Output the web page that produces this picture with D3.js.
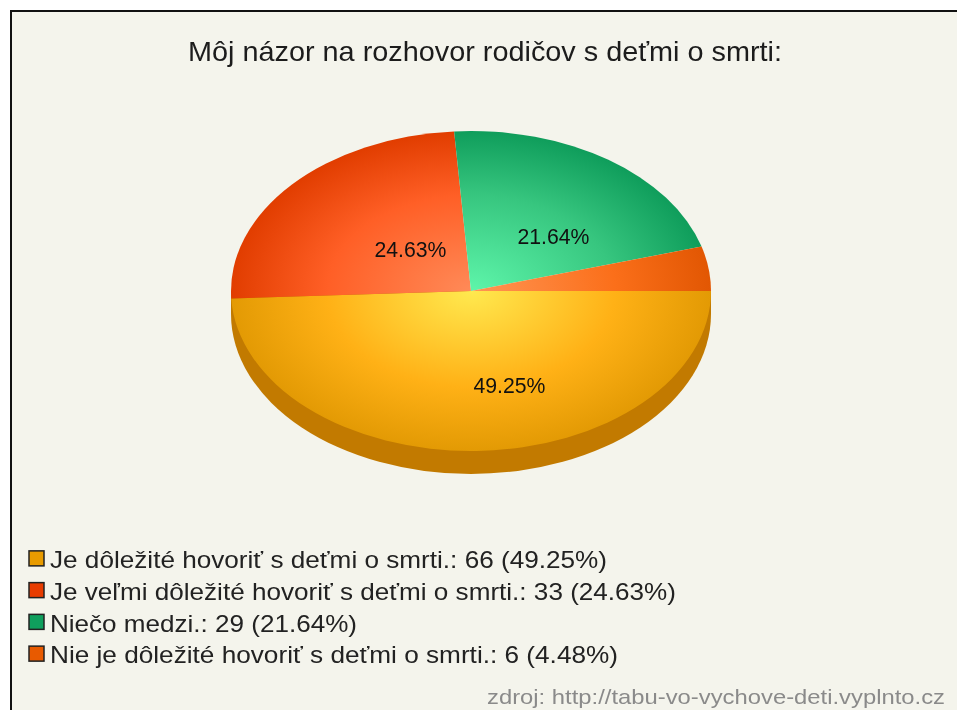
<!DOCTYPE html>
<html>
<head>
<meta charset="utf-8">
<script src="https://cdn.jsdelivr.net/npm/d3@7"></script>
<style>
  html, body { margin: 0; padding: 0; background: #fff; }
  svg { display: block; }
  text { font-family: "Liberation Sans", Arial, sans-serif; filter: blur(0.4px); }
</style>
</head>
<body>
<svg id="chart" width="957" height="710"></svg>
<script>
const title = 'Môj názor na rozhovor rodičov s deťmi o smrti:';
const categories = [
  'Je dôležité hovoriť s deťmi o smrti.',
  'Je veľmi dôležité hovoriť s deťmi o smrti.',
  'Niečo medzi.',
  'Nie je dôležité hovoriť s deťmi o smrti.',
];
const counts = [66, 33, 29, 6];
const percents = ['49.25%', '24.63%', '21.64%', '4.48%'];
const source = 'zdroj: http://tabu-vo-vychove-deti.vyplnto.cz';

// [centre, middle, edge] of each slice, then the legend swatch
const sliceColors = [
  ['#ffe94f', '#ffb116', '#e39a04'],
  ['#ff8a58', '#ff5f26', '#e13d00'],
  ['#5ef5aa', '#37c67f', '#0f9d5b'],
  ['#ff9555', '#fb6f1a', '#e25703'],
];
const swatchColors = ['#e89b00', '#e83c00', '#0f9f5d', '#e85a00'];
const sideColor = '#c27a00';

// hand nudges from the slice centroid, the small slice has no label
const labelNudge = [[35, -1], [47, 22], [0, 24], null];
const legendWidths = [557, 626, 307, 568];

const svg = d3.select('#chart');
const defs = svg.append('defs');

const cx = 471, cy = 291, rx = 240, ry = 160, depth = 23;
const squash = ry / rx;

svg.append('rect')
  .attr('x', 11).attr('y', 11)
  .attr('width', 946).attr('height', 699)
  .attr('fill', '#f4f4ec');
svg.append('path')
  .attr('d', 'M11,710V11H957')
  .attr('fill', 'none')
  .attr('stroke', '#111')
  .attr('stroke-width', 2);

svg.append('text')
  .attr('x', 188).attr('y', 61)
  .attr('font-size', 28.5)
  .attr('fill', '#1c1c1c')
  .attr('textLength', 594)
  .attr('lengthAdjust', 'spacingAndGlyphs')
  .text(title);

// pie: first slice starts pointing east and runs clockwise
const pie = d3.pie().sort(null).startAngle(Math.PI / 2).endAngle(Math.PI * 2.5);
const arcs = pie(counts);
const arc = d3.arc().innerRadius(0).outerRadius(rx);

const pieG = svg.append('g')
  .attr('transform', `translate(${cx},${cy}) scale(1,${squash})`);

// side wall of the lower half
const sideArc = d3.arc().innerRadius(0).outerRadius(rx)
  .startAngle(Math.PI / 2).endAngle(Math.PI * 1.5);
pieG.append('path')
  .attr('d', sideArc())
  .attr('transform', `translate(0,${depth / squash})`)
  .attr('fill', sideColor);
pieG.append('rect')
  .attr('x', -rx).attr('y', 0)
  .attr('width', rx * 2).attr('height', depth / squash)
  .attr('fill', sideColor);

sliceColors.forEach((c, i) => {
  const g = defs.append('radialGradient')
    .attr('id', `slice${i}`)
    .attr('gradientUnits', 'userSpaceOnUse')
    .attr('cx', 0).attr('cy', 0).attr('r', rx);
  g.append('stop').attr('offset', 0).attr('stop-color', c[0]);
  g.append('stop').attr('offset', 0.6).attr('stop-color', c[1]);
  g.append('stop').attr('offset', 1).attr('stop-color', c[2]);
});

pieG.selectAll('path.slice')
  .data(arcs)
  .join('path')
  .attr('class', 'slice')
  .attr('d', arc)
  .attr('fill', (d, i) => `url(#slice${i})`);

const labelArc = d3.arc().innerRadius(rx * 0.6).outerRadius(rx * 0.6);
svg.append('g')
  .selectAll('text')
  .data(arcs.filter((d, i) => labelNudge[i]))
  .join('text')
  .attr('x', d => cx + labelArc.centroid(d)[0] + labelNudge[d.index][0])
  .attr('y', d => cy + labelArc.centroid(d)[1] * squash + labelNudge[d.index][1])
  .attr('dy', '0.35em')
  .attr('text-anchor', 'middle')
  .attr('font-size', 21.5)
  .attr('fill', '#111')
  .attr('textLength', 72)
  .attr('lengthAdjust', 'spacingAndGlyphs')
  .text(d => percents[d.index]);

// legend
const legendY = d3.scaleBand()
  .domain(d3.range(categories.length))
  .range([543, 670]);
const legend = svg.append('g')
  .selectAll('g')
  .data(categories)
  .join('g')
  .attr('transform', (d, i) => `translate(0,${legendY(i) + legendY.bandwidth() / 2})`);
legend.append('rect')
  .attr('x', 29).attr('y', -8)
  .attr('width', 15).attr('height', 15)
  .attr('fill', (d, i) => swatchColors[i])
  .attr('stroke', '#222')
  .attr('stroke-width', 1.5);
legend.append('text')
  .attr('x', 50).attr('dy', '0.38em')
  .attr('font-size', 24)
  .attr('fill', '#222')
  .attr('textLength', (d, i) => legendWidths[i])
  .attr('lengthAdjust', 'spacingAndGlyphs')
  .text((d, i) => `${d}: ${counts[i]} (${percents[i]})`);

svg.append('text')
  .attr('x', 487).attr('y', 704)
  .attr('font-size', 21)
  .attr('fill', '#8a8a8a')
  .attr('textLength', 458)
  .attr('lengthAdjust', 'spacingAndGlyphs')
  .text(source);
</script>
</body>
</html>
